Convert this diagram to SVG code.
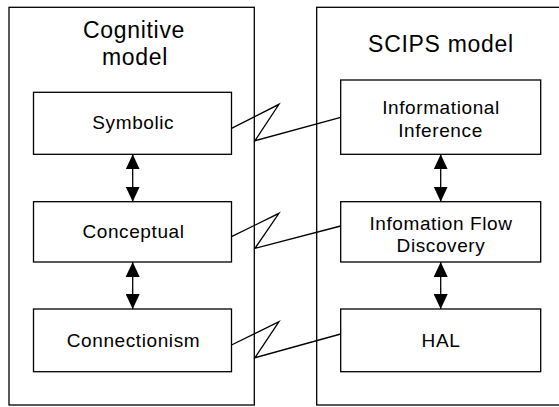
<svg xmlns="http://www.w3.org/2000/svg" width="559" height="407" viewBox="0 0 559 407">
<style>
.box{fill:#fff;stroke:#000;stroke-width:1.3}
.title{font-family:"Liberation Sans",Arial,sans-serif;font-size:23px;letter-spacing:0.7px;text-anchor:middle;fill:#000}
.lbl{font-family:"Liberation Sans",Arial,sans-serif;font-size:19px;letter-spacing:0.6px;text-anchor:middle;fill:#000}
.conn{fill:none;stroke:#000;stroke-width:1.3}
.arr{fill:none;stroke:#000;stroke-width:1.3;marker-start:url(#ah);marker-end:url(#ah)}
</style>
<defs>
<marker id="ah" markerUnits="userSpaceOnUse" markerWidth="15" markerHeight="14" refX="15" refY="7" orient="auto-start-reverse" viewBox="0 0 15 14">
<path d="M0,0 L15,7 L0,14 z" fill="#000"/>
</marker>
</defs>
<rect width="559" height="407" fill="#fff"/>
<g id="cognitive-model">
<rect class="box" x="9" y="7.3" width="245.3" height="397.7"/>
<text class="title" x="134" y="38.3">Cognitive</text>
<text class="title" x="135" y="65">model</text>
</g>
<g id="scips-model">
<rect class="box" x="316.7" y="7.3" width="260" height="397.7"/>
<text class="title" x="441" y="51.7">SCIPS model</text>
</g>
<g id="symbolic">
<rect class="box" x="33.5" y="92.3" width="198" height="62"/>
<text class="lbl" x="133.3" y="129">Symbolic</text>
</g>
<g id="conceptual">
<rect class="box" x="33.5" y="201.7" width="198" height="60.3"/>
<text class="lbl" x="133.5" y="238.3">Conceptual</text>
</g>
<g id="connectionism">
<rect class="box" x="33.5" y="309" width="198" height="62.7"/>
<text class="lbl" x="133.5" y="346.5">Connectionism</text>
</g>
<g id="informational-inference">
<rect class="box" x="340.7" y="80" width="200" height="74.3"/>
<text class="lbl" x="441" y="114">Informational</text>
<text class="lbl" x="440.5" y="136.7">Inference</text>
</g>
<g id="information-flow">
<rect class="box" x="340.7" y="201.7" width="200" height="60.3"/>
<text class="lbl" x="441" y="229.5">Infomation Flow</text>
<text class="lbl" x="441" y="252">Discovery</text>
</g>
<g id="hal">
<rect class="box" x="340.7" y="309" width="200" height="62.7"/>
<text class="lbl" x="441" y="346.5">HAL</text>
</g>
<g id="connectors">
<line class="arr" x1="132.7" y1="154.3" x2="132.7" y2="201.7"/>
<line class="arr" x1="132.7" y1="262" x2="132.7" y2="309"/>
<line class="arr" x1="440.7" y1="154.3" x2="440.7" y2="201.7"/>
<line class="arr" x1="440.7" y1="262" x2="440.7" y2="309"/>
<polyline class="conn" points="231.5,128.3 279,104.3 255,140.7 340.7,117.3"/>
<polyline class="conn" points="231.5,236.7 279,213.3 255,248.3 340.7,226"/>
<polyline class="conn" points="231.5,345 279,321.7 255,357.7 340.7,334"/>
</g>
</svg>
